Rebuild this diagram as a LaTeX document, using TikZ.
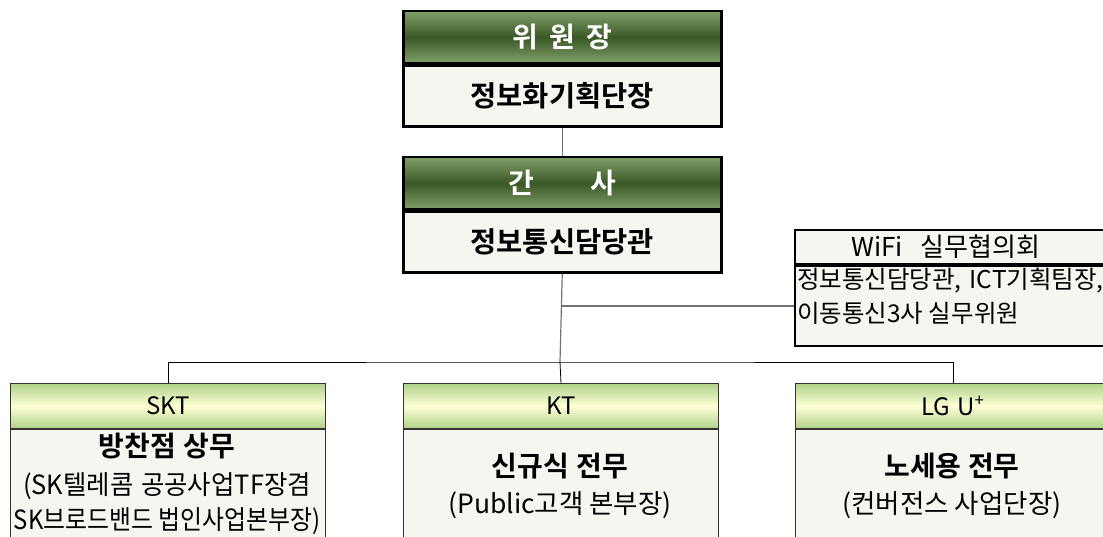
\documentclass[tikz,border=0pt]{standalone}
\usepackage{fontspec}
\setmainfont{Noto Sans CJK KR}[BoldFont={Noto Sans CJK KR Bold}]
\usetikzlibrary{positioning}

\definecolor{headlight}{RGB}{128,160,106}
\definecolor{headdark}{RGB}{58,88,38}
\definecolor{taglight}{RGB}{255,255,214}
\definecolor{taggreen}{RGB}{176,210,138}
\definecolor{bodyfill}{RGB}{243,247,240}

\tikzset{
  darkhead/.style={draw=black, line width=2.5pt, top color=headlight, bottom color=headlight,
    middle color=headdark, text=white, font=\fontsize{28}{30}\selectfont\bfseries,
    minimum width=318pt, minimum height=52pt, inner sep=0pt},
  darkbody/.style={draw=black, line width=2.5pt, fill=bodyfill, font=\fontsize{28.5}{30}\selectfont\bfseries,
    minimum width=318pt, minimum height=61pt, inner sep=0pt},
  greenhead/.style={draw=black!80, line width=1pt, top color=taggreen, bottom color=taggreen,
    middle color=taglight, font=\fontsize{24}{26}\selectfont,
    minimum width=315pt, minimum height=45pt, inner sep=0pt},
  greenbody/.style={draw=black!80, line width=1pt, fill=bodyfill,
    minimum width=315pt, minimum height=160pt, inner sep=0pt},
  bigname/.style={font=\fontsize{28}{30}\selectfont\bfseries, inner sep=0pt},
  smallname/.style={font=\fontsize{26.5}{28}\selectfont, inner sep=0pt},
  conn/.style={draw=black!55, line width=1.2pt}
}

\begin{document}
\begin{tikzpicture}[x=1pt,y=-1pt]
        % page size of the reference
        \useasboundingbox (0,0) rectangle (1103,537);
        \clip (0,0) rectangle (1103,537);

        % chairman
        \node[darkhead, anchor=north west] (chair) at (402,10) {위\hspace{11pt}원\hspace{11pt}장};
        \node[darkbody, below=0pt of chair] (chairbody) {정보화기획단장};

        % secretary
        \node[darkhead, anchor=north west] (sec) at (402,156) {간\hspace{56pt}사};
        \node[darkbody, below=0pt of sec] (secbody) {정보통신담당관};

        % WiFi working group
        \node[draw=black, line width=2pt, fill=bodyfill, anchor=north west, minimum width=330pt,
              minimum height=34pt, inner sep=0pt] (wifi) at (794,229) {};
        \node[font=\fontsize{26}{28}\selectfont, inner sep=0pt] (wifititle) at (946,247) {WiFi\hspace{18pt}실무협의회};
        \node[draw=black, line width=2pt, fill=bodyfill, below=0pt of wifi, minimum width=330pt,
              minimum height=80pt, inner sep=0pt] (wifibody) {};
        \node[anchor=west, align=left, font=\fontsize{24.5}{34}\selectfont, inner sep=0pt] (wifitext) at (797,296)
              {정보통신담당관,\hspace{8pt}ICT기획팀장,\\이동통신3사 실무위원};

        % carriers
        \node[greenhead, anchor=north west] (skt) at (10,383) {SKT};
        \node[greenbody, below=0pt of skt] (sktbody) {};
        \node[greenhead, anchor=north west] (kt) at (403,383) {KT};
        \node[greenhead, anchor=north west] (lg) at (795,383) {LG\hspace{7pt}U\textsuperscript{+}};
        \node[greenbody, below=0pt of kt] (ktbody) {};
        \node[greenbody, below=0pt of lg] (lgbody) {};

        \node[bigname] (sktname) at (167,446) {방찬점\hspace{8pt}상무};
        \node[smallname] (sktrole) at (167,486) {\scalebox{0.96}[1]{(SK텔레콤\hspace{8pt}공공사업TF장겸}};
        \node[smallname] (sktrole2) at (167,521) {\scalebox{0.9}[1]{SK브로드밴드 법인사업본부장)}};
        \node[bigname] (ktname) at (560,466) {신규식\hspace{8pt}전무};
        \node[smallname] (ktrole) at (560,505) {(Public고객 본부장)};
        \node[bigname] (lgname) at (952,466) {노세용 전무};
        \node[smallname] (lgrole) at (952,505) {(컨버전스 사업단장)};

        % connectors
        \coordinate (bus) at (560,362);
        \draw[conn] (chairbody.south) -- (sec.north);
        \draw[conn] (secbody.south) -- (bus);
        \draw[conn] (secbody.south |- wifibody.west) -- (wifibody.west);
        \draw[line width=0.8pt] (skt.north) |- (bus) -| (lg.north);
        \draw[line width=0.8pt] (bus) -- (kt.north);
\end{tikzpicture}
\end{document}
